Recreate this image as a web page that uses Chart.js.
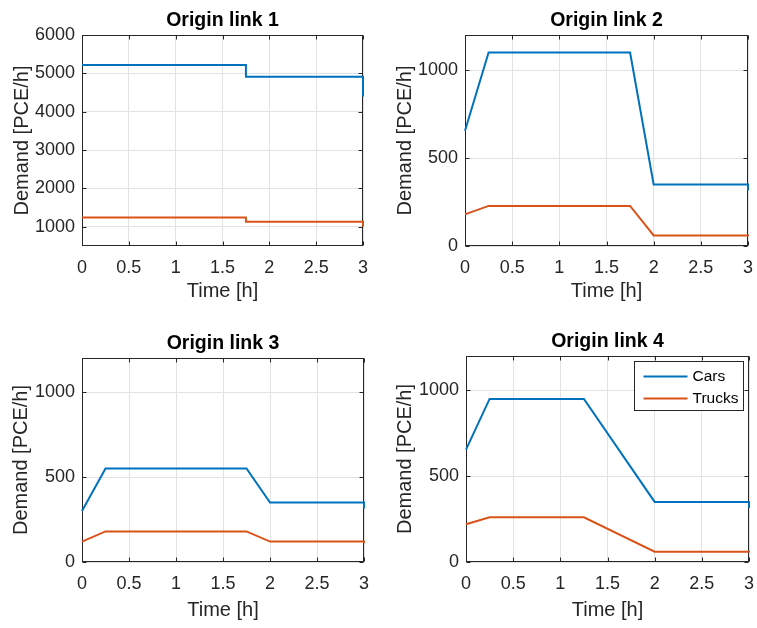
<!DOCTYPE html>
<html>
<head>
<title>Origin link demand</title>
<style>
  body { margin: 0; background: #fff; overflow: hidden; }
  #wrap { position: relative; width: 757px; height: 628px; }
  .cell { position: absolute; }
</style>
<script src="https://cdn.jsdelivr.net/npm/chart.js"></script>
</head>
<body>
<div id="wrap">
  <div class="cell" style="left:0;top:0"><canvas id="link1" width="378" height="314"></canvas></div>
  <div class="cell" style="left:378px;top:0"><canvas id="link2" width="379" height="314"></canvas></div>
  <div class="cell" style="left:0;top:314px"><canvas id="link3" width="378" height="314"></canvas></div>
  <div class="cell" style="left:378px;top:314px"><canvas id="link4" width="379" height="314"></canvas></div>
</div>
<script>
// demand profiles per origin link, time in hours
const timeLink1 = [0, 1.75, 1.75, 3, 3];
const carsLink1 = [5220, 5220, 4910, 4910, 4400];
const trucksLink1 = [1240, 1240, 1130, 1130, 1010];

const timeLink2 = [0, 0.25, 1.75, 2, 3, 3];
const carsLink2 = [655, 1100, 1100, 350, 350, 315];
const trucksLink2 = [180, 228, 228, 60, 60, 55];

const timeLink3 = [0, 0.25, 1.75, 2, 3, 3];
const carsLink3 = [300, 550, 550, 350, 350, 315];
const trucksLink3 = [120, 180, 180, 120, 120, 110];

const timeLink4 = [0, 0.25, 1.25, 2, 3, 3];
const carsLink4 = [655, 950, 950, 350, 350, 315];
const trucksLink4 = [220, 260, 260, 60, 60, 55];

const xTicks = [0, 0.5, 1, 1.5, 2, 2.5, 3];
const yTicksLink1 = [1000, 2000, 3000, 4000, 5000, 6000];
const yTicksOther = [0, 500, 1000];

const FONT = '"Liberation Sans", Helvetica, Arial, sans-serif';
const TEXT = '#262626';
const GRID = '#e2e2e2';
const CARS = '#0072BD';
const TRUCKS = '#D95319';

Chart.defaults.font.family = FONT;
Chart.defaults.color = TEXT;

const pts = (ts, vs) => ts.map((t, i) => ({ x: t, y: vs[i] }));

// box around the axes with inward ticks, plus the bold title
const axesBox = {
  id: 'axesBox',
  beforeDatasetsDraw(chart) {
    const { ctx, chartArea: a, scales } = chart;
    const L = Math.round(a.left) + 0.5, R = Math.round(a.right) - 0.5;
    const T = Math.round(a.top) + 0.5, B = Math.round(a.bottom) - 0.5;
    ctx.save();
    ctx.strokeStyle = TEXT;
    ctx.lineWidth = 1;
    ctx.strokeRect(L, T, R - L, B - T);
    const tl = 4;
    ctx.beginPath();
    scales.x.ticks.forEach(t => {
      const px = Math.round(scales.x.getPixelForValue(t.value)) + 0.5;
      ctx.moveTo(px, B); ctx.lineTo(px, B - tl);
      ctx.moveTo(px, T); ctx.lineTo(px, T + tl);
    });
    scales.y.ticks.forEach(t => {
      const py = Math.round(scales.y.getPixelForValue(t.value)) + 0.5;
      ctx.moveTo(L, py); ctx.lineTo(L + tl, py);
      ctx.moveTo(R, py); ctx.lineTo(R - tl, py);
    });
    ctx.stroke();
    ctx.restore();
  },
  afterDraw(chart, args, o) {
    const { ctx, chartArea: a } = chart;
    ctx.save();
    ctx.fillStyle = '#000';
    ctx.font = 'bold 19.5px ' + FONT;
    ctx.textAlign = 'center';
    ctx.textBaseline = 'middle';
    ctx.fillText(o.title, (a.left + a.right) / 2, a.top - 14);
    ctx.restore();
  }
};

// framed legend in the upper right corner of the axes
const boxLegend = {
  id: 'boxLegend',
  afterDraw(chart, args, o) {
    if (!o.display) return;
    const { ctx, chartArea: a } = chart;
    const w = 109, h = 49;
    const x0 = Math.round(a.right - 6 - w) + 0.5, y0 = Math.round(a.top + 5) + 0.5;
    ctx.save();
    ctx.fillStyle = '#fff';
    ctx.fillRect(x0, y0, w, h);
    ctx.strokeStyle = TEXT;
    ctx.lineWidth = 1;
    ctx.strokeRect(x0, y0, w, h);
    ctx.font = '15.5px ' + FONT;
    ctx.textBaseline = 'middle';
    chart.data.datasets.forEach((ds, i) => {
      const y = y0 + 15 + i * 22;
      ctx.strokeStyle = ds.borderColor;
      ctx.lineWidth = 2;
      ctx.beginPath();
      ctx.moveTo(x0 + 9, y); ctx.lineTo(x0 + 53, y);
      ctx.stroke();
      ctx.fillStyle = '#000';
      ctx.fillText(ds.label, x0 + 58, y);
    });
    ctx.restore();
  }
};

function makeChart(id, title, time, cars, trucks, yMin, yMax, yTicks, lay) {
  new Chart(document.getElementById(id), {
    type: 'line',
    data: {
      datasets: [
        { label: 'Cars', data: pts(time, cars), borderColor: CARS, borderWidth: 2, pointRadius: 0, tension: 0, clip: 4 },
        { label: 'Trucks', data: pts(time, trucks), borderColor: TRUCKS, borderWidth: 2, pointRadius: 0, tension: 0, clip: 4 }
      ]
    },
    options: {
      responsive: false,
      animation: false,
      layout: { padding: { top: lay.top, right: lay.right, left: 0, bottom: 0 } },
      plugins: {
        legend: { display: false },
        tooltip: { enabled: false },
        axesBox: { title: title },
        boxLegend: { display: !!lay.legend }
      },
      scales: {
        x: {
          type: 'linear', min: 0, max: 3,
          afterBuildTicks: s => { s.ticks = xTicks.map(v => ({ value: v })); },
          // fixed axis height; the layout padding alone sets the right margin
          afterFit: s => { s.height = lay.xh; s.paddingLeft = 0; s.paddingRight = 0; },
          grid: { color: GRID, drawTicks: false },
          border: { display: false },
          ticks: { padding: 11, color: TEXT, font: { size: 18 }, maxRotation: 0, autoSkip: false, callback: v => String(v) },
          title: { display: true, text: 'Time [h]', color: TEXT, font: { size: 20 }, padding: { top: 0, bottom: lay.xTitle } }
        },
        y: {
          type: 'linear', min: yMin, max: yMax,
          afterBuildTicks: s => { s.ticks = yTicks.map(v => ({ value: v })); },
          afterFit: s => { s.width = lay.yw; },
          grid: { color: GRID, drawTicks: false },
          border: { display: false },
          ticks: { padding: 7, color: TEXT, font: { size: 18 }, autoSkip: false, callback: v => String(v) },
          title: { display: true, text: 'Demand [PCE/h]', color: TEXT, font: { size: 20 }, padding: { top: lay.yTitle, bottom: 0 } }
        }
      }
    },
    plugins: [axesBox, boxLegend]
  });
}

makeChart('link1', 'Origin link 1', timeLink1, carsLink1, trucksLink1, 500, 6000, yTicksLink1,
  { top: 35, right: 15, yw: 82, xh: 68, xTitle: 11, yTitle: 10.4 });
makeChart('link2', 'Origin link 2', timeLink2, carsLink2, trucksLink2, 0, 1200, yTicksOther,
  { top: 35, right: 9, yw: 87, xh: 68, xTitle: 11, yTitle: 15 });
makeChart('link3', 'Origin link 3', timeLink3, carsLink3, trucksLink3, 0, 1200, yTicksOther,
  { top: 44, right: 14, yw: 82, xh: 66, xTitle: 6, yTitle: 9 });
makeChart('link4', 'Origin link 4', timeLink4, carsLink4, trucksLink4, 0, 1200, yTicksOther,
  { top: 42, right: 8, yw: 88, xh: 66, xTitle: 6, yTitle: 15, legend: true });
</script>
</body>
</html>
